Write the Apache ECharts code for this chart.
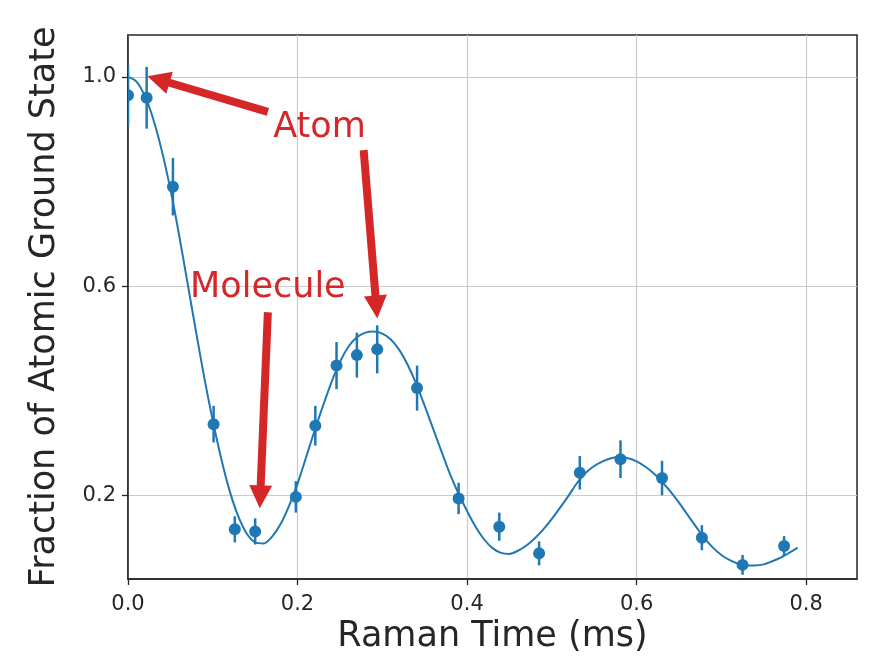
<!DOCTYPE html>
<html>
<head>
<meta charset="utf-8">
<script src="https://cdn.jsdelivr.net/npm/echarts@6/dist/echarts.min.js"></script>
<style>
  html, body { margin: 0; padding: 0; background: #ffffff; }
  #chart { width: 874px; height: 660px; }
</style>
</head>
<body>
<div id="chart"></div>
<script>
// Measured points: Raman time (ms), fraction in atomic ground state, 1-sigma error
const timeMs = [0.000, 0.022, 0.053, 0.101, 0.126, 0.150, 0.198, 0.221, 0.246, 0.270, 0.294,
                0.341, 0.390, 0.438, 0.485, 0.533, 0.581, 0.630, 0.677, 0.725, 0.774];
const fraction = [0.965, 0.960, 0.790, 0.336, 0.135, 0.131, 0.197, 0.333, 0.448, 0.468, 0.479,
                  0.405, 0.194, 0.140, 0.089, 0.243, 0.269, 0.233, 0.119, 0.067, 0.103];
const fractionErr = [0.057, 0.059, 0.055, 0.035, 0.025, 0.025, 0.030, 0.038, 0.045, 0.043, 0.046,
                     0.043, 0.030, 0.027, 0.023, 0.032, 0.036, 0.033, 0.024, 0.019, 0.019];

// Fitted damped oscillation, sampled every 0.01 ms
const fitTime = [0.00, 0.01, 0.02, 0.03, 0.04, 0.05, 0.06, 0.07, 0.08, 0.09,
                 0.10, 0.11, 0.12, 0.13, 0.14, 0.15, 0.16, 0.17, 0.18, 0.19,
                 0.20, 0.21, 0.22, 0.23, 0.24, 0.25, 0.26, 0.27, 0.28, 0.29,
                 0.30, 0.31, 0.32, 0.33, 0.34, 0.35, 0.36, 0.37, 0.38, 0.39,
                 0.40, 0.41, 0.42, 0.43, 0.44, 0.45, 0.46, 0.47, 0.48, 0.49,
                 0.50, 0.51, 0.52, 0.53, 0.54, 0.55, 0.56, 0.57, 0.58, 0.59,
                 0.60, 0.61, 0.62, 0.63, 0.64, 0.65, 0.66, 0.67, 0.68, 0.69,
                 0.70, 0.71, 0.72, 0.73, 0.74, 0.75, 0.76, 0.77, 0.78, 0.79];
const fitFraction = [1.000, 0.991, 0.963, 0.918, 0.858, 0.785, 0.700, 0.608, 0.515, 0.425,
                     0.343, 0.270, 0.208, 0.160, 0.127, 0.110, 0.108, 0.121, 0.145, 0.180,
                     0.222, 0.272, 0.323, 0.371, 0.416, 0.455, 0.484, 0.502, 0.511, 0.513,
                     0.509, 0.498, 0.478, 0.449, 0.413, 0.371, 0.327, 0.283, 0.240, 0.203,
                     0.170, 0.140, 0.116, 0.099, 0.090, 0.088, 0.094, 0.104, 0.118, 0.135,
                     0.155, 0.177, 0.200, 0.224, 0.243, 0.256, 0.265, 0.271, 0.273, 0.271,
                     0.265, 0.255, 0.242, 0.226, 0.207, 0.186, 0.163, 0.140, 0.118, 0.100,
                     0.086, 0.076, 0.069, 0.066, 0.066, 0.068, 0.074, 0.081, 0.090, 0.100];

// Tick labels
const xTicks = [0.0, 0.2, 0.4, 0.6, 0.8];
const yTicks = [0.2, 0.6, 1.0];

// Annotation texts and arrows (tail -> head, in data coordinates)
const noteTexts = ['Atom', 'Molecule'];
const noteTextAt = [[0.226, 0.902], [0.165, 0.596]];
const arrowTail = [[0.165, 0.933], [0.278, 0.860], [0.165, 0.550]];
const arrowHead = [[0.036, 0.995], [0.293, 0.560], [0.156, 0.197]];

const blue = '#1f77b4';
const red = '#d62728';
const ink = '#262626';
const font = 'DejaVu Sans';

const points = timeMs.map((t, i) => [t, fraction[i], fractionErr[i]]);
const fitLine = fitTime.map((t, i) => [t, fitFraction[i]]);

const chart = echarts.init(document.getElementById('chart'), null, { renderer: 'canvas' });

chart.setOption({
  animation: false,
  backgroundColor: '#ffffff',
  grid: {
    left: 128, top: 35, right: 17, bottom: 81,
    show: true, borderColor: ink, borderWidth: 1.5, backgroundColor: 'transparent'
  },
  xAxis: {
    type: 'value', min: 0, max: 0.86, interval: 0.2,
    name: 'Raman Time (ms)', nameLocation: 'middle', nameGap: 39,
    nameTextStyle: { fontFamily: font, fontSize: 35, color: ink },
    axisLine: { show: true, onZero: false, lineStyle: { color: ink, width: 1.5 } },
    axisTick: { show: true, inside: false, length: 6, customValues: xTicks, lineStyle: { color: ink, width: 1.3 } },
    axisLabel: { customValues: xTicks, fontFamily: font, fontSize: 21, color: ink, margin: 15,
                 formatter: v => v.toFixed(1) },
    splitLine: { show: true, lineStyle: { color: '#cbcbcb', width: 1.2 } }
  },
  yAxis: {
    type: 'value', min: 0.04, max: 1.08,
    name: 'Fraction of Atomic Ground State', nameLocation: 'middle', nameGap: 66,
    nameTextStyle: { fontFamily: font, fontSize: 35, color: ink },
    axisLine: { show: true, onZero: false, lineStyle: { color: ink, width: 1.5 } },
    axisTick: { show: true, inside: false, length: 6, customValues: yTicks, lineStyle: { color: ink, width: 1.3 } },
    axisLabel: { customValues: yTicks, fontFamily: font, fontSize: 21, color: ink, margin: 12,
                 formatter: v => v.toFixed(1) },
    splitLine: { show: true, lineStyle: { color: '#cbcbcb', width: 1.2 } }
  },
  series: [
    {
      // error bars with filled circle markers
      type: 'custom',
      clip: true,
      z: 2,
      data: points,
      encode: { x: 0, y: 1 },
      renderItem: function (params, api) {
        const x = api.value(0), y = api.value(1), e = api.value(2);
        const lo = api.coord([x, y - e]);
        const hi = api.coord([x, y + e]);
        const c = api.coord([x, y]);
        return {
          type: 'group',
          children: [
            { type: 'line', shape: { x1: lo[0], y1: lo[1], x2: hi[0], y2: hi[1] },
              style: { stroke: blue, lineWidth: 2.5 } },
            { type: 'circle', shape: { cx: c[0], cy: c[1], r: 6 }, style: { fill: blue } }
          ]
        };
      }
    },
    {
      type: 'line',
      z: 3,
      data: fitLine,
      showSymbol: false,
      smooth: 0.3,
      lineStyle: { color: blue, width: 2 },
      silent: true,
      markLine: {
        silent: true,
        animation: false,
        symbol: ['none', 'path://M10,0 L20,22 L0,22 Z'],
        symbolSize: [23, 23],
        lineStyle: { color: red, width: 8, type: 'solid', opacity: 1 },
        itemStyle: { color: red },
        label: { show: false },
        emphasis: { disabled: true },
        data: arrowTail.map((t, i) => [{ coord: t }, { coord: arrowHead[i] }])
      },
      markPoint: {
        silent: true,
        symbol: 'circle',
        symbolSize: 0,
        label: {
          show: true, position: 'inside', color: red, fontFamily: font, fontSize: 35,
          formatter: p => p.name
        },
        data: noteTexts.map((n, i) => ({ name: n, coord: noteTextAt[i] }))
      }
    }
  ]
});
</script>
</body>
</html>
